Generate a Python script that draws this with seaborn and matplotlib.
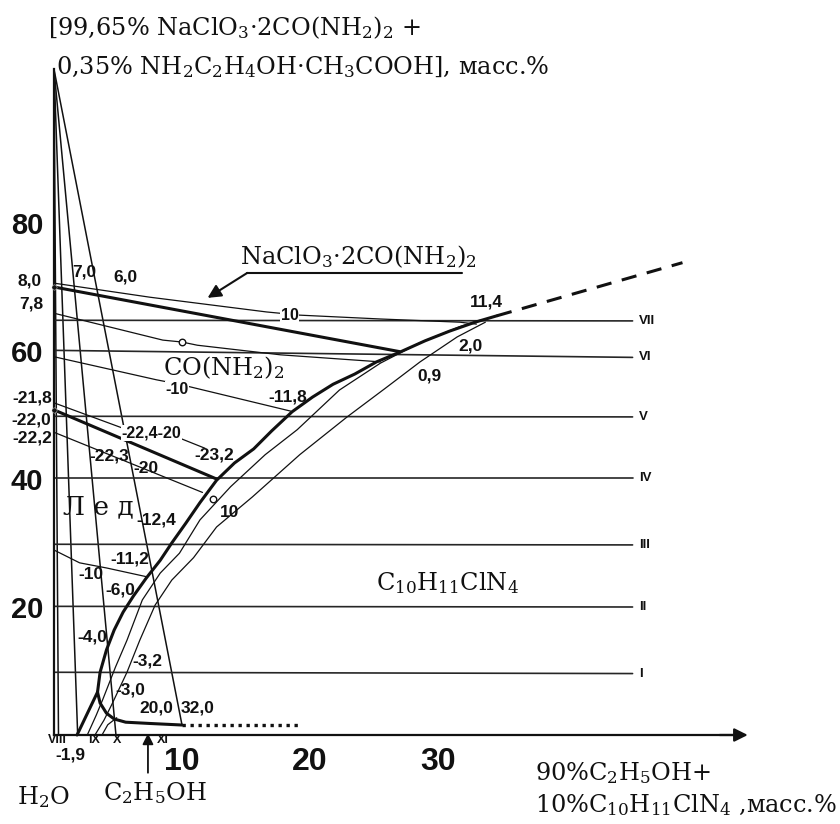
import matplotlib
matplotlib.use("Agg")
import matplotlib.pyplot as plt
import seaborn as sns

# ---------------- data (mass %) ----------------
# apex of the section diagram and the ends of the rays drawn from it
apex_x, apex_y = 0.0, 104.0
ray_end_x = [0.35, 1.85, 4.84, 10.0]
ray_end_y = [0.0, 0.0, 0.0, 1.56]

# horizontal sections I..VII
section_names = ["I", "II", "III", "IV", "V", "VI", "VII"]
section_y_left = [9.8, 20.1, 29.8, 40.1, 49.8, 60.1, 64.8]
section_y_right = [9.6, 20.0, 29.7, 40.1, 49.7, 59.0, 64.7]
section_x_end = 45.2

# crystallization boundary of C10H11ClN4 (upper branch up to the 11,4 point)
bound_x = [3.4, 3.6, 4.1, 4.7, 5.4, 6.2, 7.2, 8.3, 9.2, 10.3, 11.4, 12.7, 14.1,
           15.6, 17.0, 18.6, 20.2, 21.8, 23.5, 25.2, 27.0, 29.0, 30.9, 32.9, 34.6]
bound_y = [6.7, 9.8, 13.3, 16.4, 19.2, 21.7, 24.5, 27.3, 30.0, 33.1, 36.3, 39.8, 42.5,
           44.7, 47.5, 50.5, 52.8, 54.8, 56.4, 58.3, 59.8, 61.6, 63.1, 64.5, 65.5]
# lower branch towards the 32,0 point
lower_x = [3.4, 3.6, 4.1, 4.7, 5.6, 7.5, 10.0]
lower_y = [6.7, 5.0, 3.4, 2.5, 2.0, 1.8, 1.56]
# ice branch from the -1,9 point
ice_x = [1.8, 3.4]
ice_y = [0.0, 6.7]
# continuation beyond 11,4
ext_x = [34.6, 49.1]
ext_y = [65.5, 73.8]
# continuation beyond 32,0
base_x = [10.0, 19.2]
base_y = [1.56, 1.56]

# isotherms parallel to the boundary
iso1_x = [2.6, 3.3, 3.8, 4.8, 5.7, 6.9, 8.3, 9.8, 11.4, 13.8, 16.5, 19.0, 22.3, 25.5, 28.6, 31.7, 33.3]
iso1_y = [0.0, 3.1, 5.5, 10.6, 14.8, 21.1, 25.3, 28.4, 33.6, 38.8, 43.8, 47.7, 53.9, 58.1, 61.3, 63.8, 64.8]
iso2_x = [3.2, 3.9, 4.5, 5.7, 6.7, 7.9, 9.2, 10.9, 12.7, 15.5, 19.2, 22.9, 25.9, 28.6, 31.5, 33.7]
iso2_y = [0.0, 2.3, 4.7, 9.8, 14.8, 20.3, 24.2, 27.7, 32.5, 37.2, 43.8, 49.7, 54.2, 58.3, 62.2, 64.5]
arc_x = [3.75, 4.2, 4.9]
arc_y = [0.0, 1.6, 2.7]

# NaClO3*2CO(NH2)2 field boundary and isotherms on the left
nacl_x = [0.0, 27.0]
nacl_y = [70.0, 59.9]
t10_x = [0.0, 7.5, 16.6, 19.2, 25.5, 31.7, 33.0]
t10_y = [70.6, 68.4, 66.1, 65.6, 65.0, 64.5, 64.2]
t0_x = [0.0, 8.5, 10.0, 11.2, 17.7, 25.5]
t0_y = [65.9, 61.7, 61.4, 60.9, 59.4, 58.3]
tm10_x = [0.0, 8.0, 9.8, 18.5]
tm10_y = [59.1, 55.5, 54.8, 50.6]
tm20a_x = [0.0, 5.7, 9.8, 11.8]
tm20a_y = [51.9, 47.7, 46.4, 44.8]
eut_x = [0.0, 12.7]
eut_y = [50.8, 40.0]
tm20b_x = [0.0, 11.6]
tm20b_y = [47.3, 37.9]
ice10_x = [0.0, 2.0, 4.1, 7.3]
ice10_y = [28.9, 26.9, 26.1, 24.7]

# open circles
circle_x = [10.0, 12.4]
circle_y = [61.4, 36.9]
# solid points on the axis
dot_x = [0.0, 0.0]
dot_y = [70.0, 50.8]

# point labels: text, x, y
point_labels = ["8,0", "7,8", "7,0", "6,0", "11,4", "2,0", "0,9", "-11,8",
                "-21,8", "-22,0", "-22,2", "-23,2", "-22,3", "-20",
                "10", "-12,4", "-11,2", "-10", "-6,0", "-4,0", "-3,2", "-3,0",
                "20,0", "32,0", "-1,9"]
point_label_x = [-1.9, -1.8, 2.4, 5.55, 33.8, 32.5, 29.3, 18.3,
                 -1.7, -1.8, -1.7, 12.5, 4.3, 7.2,
                 13.75, 8.0, 5.9, 2.9, 5.2, 3.0, 7.3, 6.0,
                 8.0, 11.2, 1.3]
point_label_y = [70.9, 67.3, 72.3, 71.6, 67.7, 60.8, 56.1, 52.8,
                 52.7, 49.2, 46.4, 43.75, 43.6, 41.7,
                 34.7, 33.6, 27.5, 25.0, 22.7, 15.3, 11.6, 7.0,
                 4.2, 4.2, -3.1]
# labels set into a gap of their line
gap_labels = ["10", "-10", "-22,4-20"]
gap_label_x = [18.4, 9.6, 7.6]
gap_label_y = [65.5, 54.0, 47.2]

base_names = ["VIII", "IX", "X", "XI"]
base_name_x = [0.25, 3.1, 4.9, 8.5]

xticks = [10, 20, 30, 40]
xtick_labels = ["10", "20", "30", ""]
yticks = [20, 40, 60, 80]
ytick_labels = ["20", "40", "60", "80"]

# ---------------- style ----------------
sns.set_style("white")
plt.rcParams["font.family"] = ["DejaVu Serif"]
plt.rcParams["mathtext.fontset"] = "dejavuserif"
NARROW = ["Liberation Sans Narrow", "Liberation Sans", "DejaVu Sans"]
INK = "#111111"
SERIF_SIZE = 17.3

fig = plt.figure(figsize=(8.4, 8.24), dpi=100)
ax = fig.add_axes([0, 0, 1, 1])
ax.set_xlim(-4.219, 61.406)
ax.set_ylim(-13.906, 114.84)


def curve(x, y, lw=0.9, color=INK, ls="-", z=2):
    sns.lineplot(x=x, y=y, sort=False, estimator=None, ax=ax, color=color,
                 lw=lw, linestyle=ls, legend=False, zorder=z)
    return ax.lines[-1]


# rays from the apex
for ex, ey in zip(ray_end_x, ray_end_y):
    curve([apex_x, ex], [apex_y, ey], lw=1.1)

# sections
for name, yl, yr in zip(section_names, section_y_left, section_y_right):
    curve([0.0, section_x_end], [yl, yr], lw=1.2, color="#262626")
    ax.text(section_x_end + 0.5, yr, name, family=NARROW, weight="bold",
            fontsize=9.5, ha="left", va="center", color=INK)

# thin isotherms
for xs, ys in [(iso1_x, iso1_y), (iso2_x, iso2_y), (arc_x, arc_y),
               (t10_x, t10_y), (t0_x, t0_y), (tm10_x, tm10_y),
               (tm20a_x, tm20a_y), (tm20b_x, tm20b_y), (ice10_x, ice10_y)]:
    curve(xs, ys, lw=0.9)

# heavy boundaries
for xs, ys in [(bound_x, bound_y), (lower_x, lower_y), (ice_x, ice_y),
               (nacl_x, nacl_y), (eut_x, eut_y)]:
    curve(xs, ys, lw=2.2, z=3)

ln = curve(ext_x, ext_y, lw=2.2, z=3)
ln.set_dashes([5, 3.5])
ln = curve(base_x, base_y, lw=2.4, z=3)
ln.set_dashes([1.0, 1.4])

sns.scatterplot(x=circle_x, y=circle_y, s=22, facecolor="white",
                edgecolor=INK, linewidth=1.0, ax=ax, zorder=6, legend=False)
sns.scatterplot(x=dot_x, y=dot_y, s=14, color=INK, ax=ax, zorder=6, legend=False)

# value labels
for t, x, y in zip(point_labels, point_label_x, point_label_y):
    ax.text(x, y, t, family=NARROW, weight="bold", fontsize=12.5,
            ha="center", va="center", color=INK, zorder=7)
for t, x, y in zip(gap_labels, gap_label_x, gap_label_y):
    ax.text(x, y, t, family=NARROW, weight="bold", fontsize=11.5,
            ha="center", va="center", color=INK, zorder=7,
            bbox=dict(facecolor="white", edgecolor="none", pad=0.3))
for t, x in zip(base_names, base_name_x):
    ax.text(x, -0.8, t, family=NARROW, weight="bold", fontsize=9,
            ha="center", va="center", color=INK, zorder=7)

# axes
for side in ("top", "right"):
    ax.spines[side].set_visible(False)
ax.spines["left"].set_position(("data", 0))
ax.spines["bottom"].set_position(("data", 0))
ax.spines["left"].set_bounds(0, apex_y)
ax.spines["bottom"].set_bounds(0, 53.0)
for side in ("left", "bottom"):
    ax.spines[side].set_linewidth(1.6)
    ax.spines[side].set_color(INK)
    ax.spines[side].set_zorder(4)
ax.annotate("", xy=(54.2, 0), xytext=(52.0, 0),
            arrowprops=dict(arrowstyle="-|>", color=INK, lw=1.6,
                            mutation_scale=20, shrinkA=0, shrinkB=0))

ax.set_xticks(xticks)
ax.set_xticklabels(xtick_labels)
ax.set_yticks(yticks)
ax.set_yticklabels(ytick_labels)
ax.tick_params(axis="x", direction="inout", length=13, width=1.2, pad=2,
               colors=INK, labelsize=23)
ax.tick_params(axis="y", direction="inout", length=11.5, width=1.2, pad=2,
               colors=INK, labelsize=21)
for lab in ax.get_xticklabels() + ax.get_yticklabels():
    lab.set_family(NARROW)
    lab.set_weight("bold")
ax.grid(False)

# component names and field names
ax.text(-0.47, 110.5, r"[99,65% NaClO$_3$·2CO(NH$_2$)$_2$ +",
        fontsize=SERIF_SIZE, ha="left", va="center", color=INK)
ax.text(0.15, 104.3, r"0,35% NH$_2$C$_2$H$_4$OH·CH$_3$COOH], масс.%",
        fontsize=SERIF_SIZE, ha="left", va="center", color=INK)
ax.text(14.5, 74.7, r"NaClO$_3$·2CO(NH$_2$)$_2$", fontsize=SERIF_SIZE,
        ha="left", va="center", color=INK)
curve([31.9, 15.1], [72.2, 72.2], lw=1.5)
ax.annotate("", xy=(12.0, 68.3), xytext=(15.1, 72.2),
            arrowprops=dict(arrowstyle="-|>", color=INK, lw=1.5,
                            mutation_scale=20, shrinkA=0, shrinkB=0))
ax.text(13.3, 57.4, r"CO(NH$_2$)$_2$", fontsize=SERIF_SIZE, ha="center",
        va="center", color=INK, zorder=1)
ax.text(3.5, 35.6, "Л е д", fontsize=19, ha="center", va="center", color=INK)
ax.text(30.7, 23.75, r"C$_{10}$H$_{11}$ClN$_4$", fontsize=SERIF_SIZE,
        ha="center", va="center", color=INK)
ax.text(-0.86, -9.7, r"H$_2$O", fontsize=SERIF_SIZE, ha="center",
        va="center", color=INK)
ax.text(7.9, -9.0, r"C$_2$H$_5$OH", fontsize=SERIF_SIZE, ha="center",
        va="center", color=INK)
ax.annotate("", xy=(7.34, 0.25), xytext=(7.34, -5.9),
            arrowprops=dict(arrowstyle="-|>", color=INK, lw=1.3,
                            mutation_scale=16, shrinkA=0, shrinkB=0))
ax.text(37.6, -5.9, r"90%C$_2$H$_5$OH+", fontsize=SERIF_SIZE, ha="left",
        va="center", color=INK)
ax.text(37.6, -10.9, r"10%C$_{10}$H$_{11}$ClN$_4$ ,масс.%", fontsize=SERIF_SIZE,
        ha="left", va="center", color=INK)

fig.savefig("out.png", dpi=100, facecolor="white")
